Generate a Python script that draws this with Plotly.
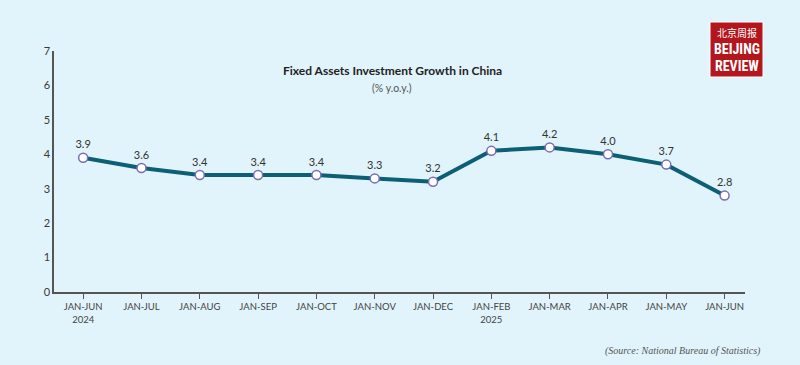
import plotly.graph_objects as go

categories = ["JAN-JUN<br>2024", "JAN-JUL", "JAN-AUG", "JAN-SEP", "JAN-OCT", "JAN-NOV",
              "JAN-DEC", "JAN-FEB<br>2025", "JAN-MAR", "JAN-APR", "JAN-MAY", "JAN-JUN"]
growth = [3.9, 3.6, 3.4, 3.4, 3.4, 3.3, 3.2, 4.1, 4.2, 4.0, 3.7, 2.8]
y_ticks = [0, 1, 2, 3, 4, 5, 6, 7]

bg = "#e1f3fb"
x_idx = list(range(len(categories)))

L, R, T, B = 54, 745, 51, 292
W, H = 800, 365


def px(x):
    return (x - L) / (R - L)


def py(y):
    return (B - y) / (B - T)


fig = go.Figure()
fig.add_trace(go.Scatter(
    x=x_idx, y=growth, mode="lines+markers+text",
    line=dict(color="#0c5f74", width=4),
    marker=dict(size=9, color="white", line=dict(color="#7a6db3", width=1.5)),
    text=[f"{v:.1f}" for v in growth], textposition="top center",
    textfont=dict(family="Lato, sans-serif", size=11, color="#333333"),
    cliponaxis=False, showlegend=False, hoverinfo="skip",
))

fig.update_layout(
    width=W, height=H,
    margin=dict(l=L, r=W - R, t=T, b=H - B),
    paper_bgcolor=bg, plot_bgcolor=bg,
    font=dict(family="Lato, sans-serif", color="#444444"),
    xaxis=dict(
        range=[-0.5, 11.35], tickmode="array", tickvals=x_idx, ticktext=categories,
        showgrid=False, zeroline=False, showline=True, linecolor="#555555", linewidth=1.5,
        ticks="outside", ticklen=5, tickcolor="#555555", tickwidth=1.2,
        tickfont=dict(family="Lato, sans-serif", size=9.5, color="#444444"),
    ),
    yaxis=dict(
        range=[0, 7], tickmode="array", tickvals=y_ticks,
        showgrid=False, zeroline=False, showline=True, linecolor="#555555", linewidth=1.5,
        ticks="", tickfont=dict(family="Lato, sans-serif", size=11, color="#3a3a3a"),
    ),
)

# logo box
fig.add_shape(type="rect", xref="paper", yref="paper",
              x0=px(710), x1=px(763), y0=py(77), y1=py(22),
              fillcolor="#b3161c", line=dict(color="#ffffff", width=1), layer="above")

annotations = [
    dict(x=392, y=70, text="<b>Fixed Assets Investment Growth in China</b>",
         font=dict(family="Lato, sans-serif", size=12, color="#222222")),
    dict(x=392, y=88, text="(% y.o.y.)",
         font=dict(family="Lato, sans-serif", size=10.5, color="#555555")),
    dict(x=763, y=351, text="<i>(Source: National Bureau of Statistics)</i>", xanchor="right",
         font=dict(family="Liberation Serif, serif", size=10, color="#555555")),
    dict(x=736.5, y=32, text="北京周报",
         font=dict(family="Noto Sans CJK SC", size=10, color="white")),
    dict(x=736.5, y=49, text="<b>BEIJING</b>",
         font=dict(family="Liberation Sans Narrow, Roboto Condensed, sans-serif", size=14, color="white")),
    dict(x=736.5, y=66, text="<b>REVIEW</b>",
         font=dict(family="Liberation Sans Narrow, Roboto Condensed, sans-serif", size=14, color="white")),
]
for a in annotations:
    fig.add_annotation(x=px(a["x"]), y=py(a["y"]), xref="paper", yref="paper",
                       text=a["text"], showarrow=False, xanchor=a.get("xanchor", "center"),
                       yanchor="middle", font=a["font"])

fig.write_html("out.html", config={"displayModeBar": False})

with open("out.html", "r", encoding="utf-8") as f:
    html = f.read()
html = html.replace("<head>", "<head><style>html,body{margin:0;padding:0;}</style>", 1)
with open("out.html", "w", encoding="utf-8") as f:
    f.write(html)
